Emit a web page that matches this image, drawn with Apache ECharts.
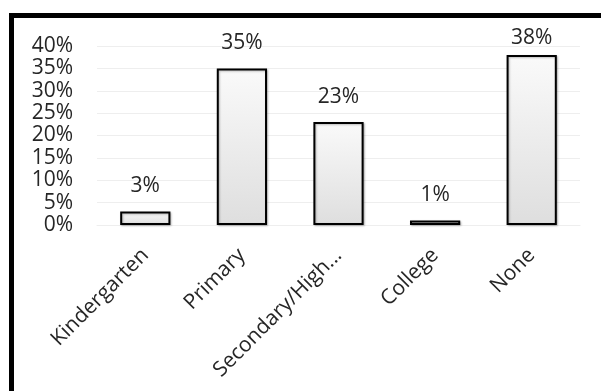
<!DOCTYPE html>
<html>
<head>
<meta charset="utf-8">
<style>
  html, body { margin: 0; padding: 0; background: #fff; }
  #chart { width: 601px; height: 391px; }
</style>
<script src="https://cdn.jsdelivr.net/npm/echarts@6/dist/echarts.min.js"></script>
</head>
<body>
<div id="chart"></div>
<script>
// Education level shares (percent of respondents)
const categories = ['Kindergarten', 'Primary', 'Secondary/High School', 'College', 'None'];
const shares = [3, 35, 23, 1, 38];
const yTicks = { min: 0, max: 40, step: 5 };

const FONT = '"Open Sans", "Liberation Sans", sans-serif';
const TEXT = '#262626';
const MAX_LABEL_CHARS = 14;

// Labels on bars close to the top of the plot are tucked down so they stay inside the frame
const barData = shares.map(v => (v > yTicks.max - 4 ? { value: v, label: { distance: 6 } } : v));

// Long category names are cut short with an ellipsis
const shortLabel = name => (name.length > MAX_LABEL_CHARS
  ? name.slice(0, MAX_LABEL_CHARS).trimEnd() + '...'
  : name);

const chart = echarts.init(document.getElementById('chart'), null, { renderer: 'canvas' });

chart.setOption({
  animation: false,
  backgroundColor: '#ffffff',
  textStyle: { fontFamily: FONT },
  graphic: [{
    type: 'rect',
    silent: true,
    z: 100,
    shape: { x: 11.5, y: 15.5, width: 700, height: 500 },
    style: { fill: 'none', stroke: '#000', lineWidth: 5 }
  }],
  grid: { left: 97, right: 21, top: 46, bottom: 166, containLabel: false },
  xAxis: {
    type: 'category',
    data: categories,
    axisLine: { show: true, lineStyle: { color: '#eeeeee', width: 1 } },
    axisTick: { show: false },
    axisLabel: {
      rotate: 45,
      margin: 27,
      color: TEXT,
      fontFamily: FONT,
      fontSize: 21,
      formatter: shortLabel
    }
  },
  yAxis: {
    type: 'value',
    min: yTicks.min,
    max: yTicks.max,
    interval: yTicks.step,
    axisLine: { show: false },
    axisTick: { show: false },
    splitLine: { lineStyle: { color: '#eeeeee', width: 1 } },
    axisLabel: {
      margin: 24,
      color: TEXT,
      fontFamily: FONT,
      fontSize: 21,
      formatter: '{value}%'
    }
  },
  series: [{
    type: 'bar',
    data: barData,
    barWidth: '52%',
    itemStyle: {
      color: new echarts.graphic.LinearGradient(0, 0, 0, 1, [
        { offset: 0, color: '#fafafa' },
        { offset: 1, color: '#dedede' }
      ]),
      borderColor: '#000',
      borderWidth: 2,
      shadowColor: 'rgba(0,0,0,0.25)',
      shadowBlur: 2,
      shadowOffsetX: 1,
      shadowOffsetY: 1
    },
    label: {
      show: true,
      position: 'top',
      distance: 15,
      color: TEXT,
      fontFamily: FONT,
      fontSize: 21,
      formatter: p => p.value + '%'
    }
  }]
});
</script>
</body>
</html>
